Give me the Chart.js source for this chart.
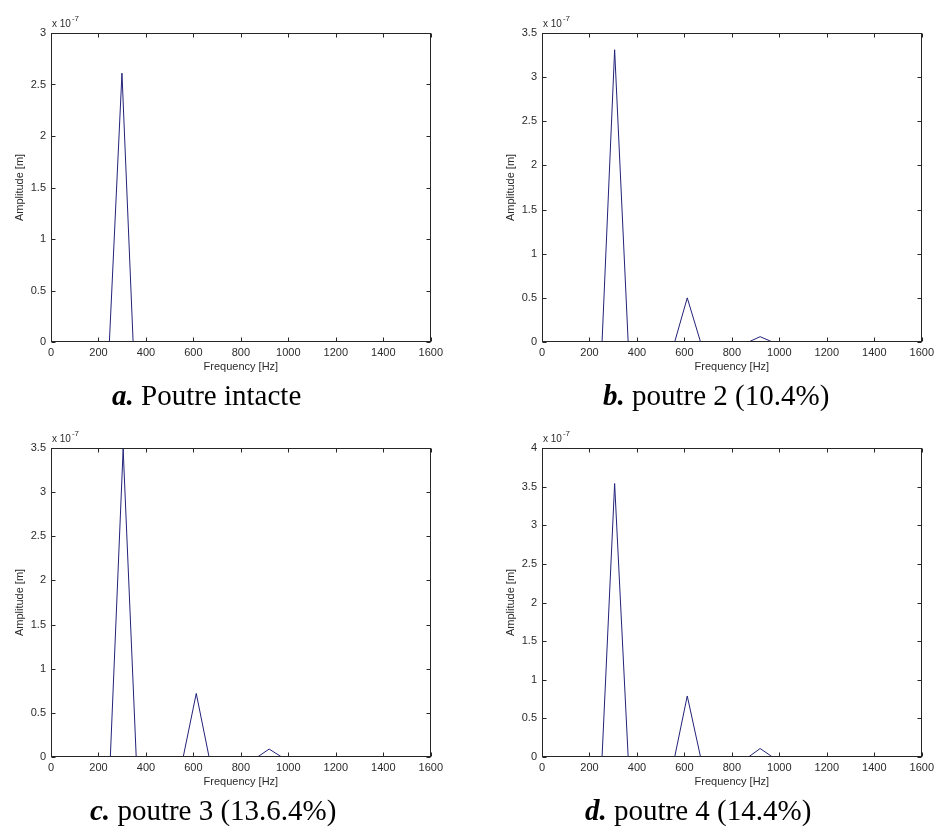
<!DOCTYPE html>
<html>
<head>
<meta charset="utf-8">
<script src="https://cdn.jsdelivr.net/npm/chart.js@4/dist/chart.umd.min.js"></script>
<style>
  html, body { margin: 0; padding: 0; background: #fff; overflow: hidden; }
  body { width: 938px; height: 834px; position: relative; }
  .panel { position: absolute; width: 447px; height: 380px; }
  .cap { position: absolute; font-family: "Liberation Serif", "Times New Roman", serif; font-size: 29px; line-height: 29px; color: #000; white-space: nowrap; }
  .cap b { font-style: italic; }
</style>
</head>
<body>
<div class="panel" style="left:0;top:0"><canvas id="ca"></canvas></div>
<div class="panel" style="left:491px;top:0"><canvas id="cb"></canvas></div>
<div class="panel" style="left:0;top:415px"><canvas id="cc"></canvas></div>
<div class="panel" style="left:491px;top:415px"><canvas id="cd"></canvas></div>
<div class="cap" style="left:112px;top:381px"><b>a.</b> Poutre intacte</div>
<div class="cap" style="left:603px;top:381px"><b>b.</b> poutre 2 (10.4%)</div>
<div class="cap" style="left:90px;top:796px"><b>c.</b> poutre 3 (13.6.4%)</div>
<div class="cap" style="left:585px;top:796px"><b>d.</b> poutre 4 (14.4%)</div>
<script>
// Frequencies in Hz, amplitudes in units of 1e-7 m
const freqA = [246, 299, 346];
const ampA  = [0, 2.61, 0];
const freqB = [57, 253, 306, 363, 559, 612, 668, 870, 919, 971, 1531];
const ampB  = [0, 0, 3.31, 0, 0, 0.50, 0, 0, 0.06, 0, 0];
const freqC = [54, 250, 304, 359, 557, 612, 666, 870, 919, 972, 1529];
const ampC  = [0, 0, 3.49, 0, 0, 0.72, 0, 0, 0.09, 0, 0];
const freqD = [57, 253, 306, 363, 559, 612, 668, 870, 919, 971, 1531];
const ampD  = [0, 0, 3.54, 0, 0, 0.79, 0, 0, 0.11, 0, 0];
const yMaxA = 3, yMaxB = 3.5, yMaxC = 3.5, yMaxD = 4;
const xTickStep = 200, xMin = 0, xMax = 1600;
const yTickStep = 0.5;
const xTitle = 'Frequency [Hz]';
const yTitle = 'Amplitude [m]';
const expBase = 'x 10', expPow = '-7';

const LINE = '#22227a';
const AXIS = '#262626';
const TXT = '#2b2b2b';
const FONT = 'Liberation Sans, Arial, sans-serif';

const boxPlugin = {
  id: 'box',
  afterDraw(chart) {
    const {ctx, chartArea: a, scales} = chart;
    ctx.save();
    ctx.strokeStyle = AXIS;
    ctx.lineWidth = 1;
    const L = Math.round(a.left) + 0.5, R = Math.round(a.right) - 0.5;
    const T = Math.round(a.top) + 0.5, B = Math.round(a.bottom) - 0.5;
    ctx.strokeRect(L, T, R - L, B - T);
    const tl = 4;
    ctx.beginPath();
    scales.x.ticks.forEach(t => {
      const px = Math.round(scales.x.getPixelForValue(t.value)) + 0.5;
      ctx.moveTo(px, B); ctx.lineTo(px, B - tl);
      ctx.moveTo(px, T); ctx.lineTo(px, T + tl);
    });
    scales.y.ticks.forEach(t => {
      const py = Math.round(scales.y.getPixelForValue(t.value)) + 0.5;
      ctx.moveTo(L, py); ctx.lineTo(L + tl, py);
      ctx.moveTo(R, py); ctx.lineTo(R - tl, py);
    });
    ctx.stroke();
    // exponent label
    ctx.fillStyle = TXT;
    ctx.textBaseline = 'alphabetic';
    ctx.textAlign = 'left';
    ctx.font = '10px ' + FONT;
    ctx.fillText(expBase, a.left + 1, a.top - 6);
    const w = ctx.measureText(expBase).width;
    ctx.font = '8px ' + FONT;
    ctx.fillText(expPow, a.left + 1 + w + 1, a.top - 12);
    ctx.restore();
  }
};

function makeChart(id, fx, fy, yMax) {
  const pts = fx.map((x, i) => ({x: x, y: fy[i]}));
  new Chart(document.getElementById(id), {
    type: 'scatter',
    data: { datasets: [{ data: pts, showLine: true, borderColor: LINE, borderWidth: 1,
      pointRadius: 0, pointHoverRadius: 0, fill: false, tension: 0 }] },
    options: {
      responsive: true, maintainAspectRatio: false, animation: false,
      layout: { padding: { top: 33, right: 14, left: 0, bottom: 0 } },
      plugins: { legend: { display: false }, tooltip: { enabled: false } },
      scales: {
        x: {
          type: 'linear', min: xMin, max: xMax,
          grid: { display: false, drawTicks: false },
          border: { display: false },
          ticks: { stepSize: xTickStep, padding: 4, color: TXT, font: { family: FONT, size: 11 },
            maxRotation: 0, autoSkip: false, callback: v => String(v) },
          title: { display: true, text: xTitle, color: TXT, font: { family: FONT, size: 11 },
            padding: { top: 0, bottom: 6 } },
          afterFit: s => { s.height = 38; }
        },
        y: {
          type: 'linear', min: 0, max: yMax,
          grid: { display: false, drawTicks: false },
          border: { display: false },
          ticks: { stepSize: yTickStep, padding: 5, color: TXT, font: { family: FONT, size: 11 },
            autoSkip: false, callback: v => String(+(+v).toFixed(1)) },
          title: { display: true, text: yTitle, color: TXT, font: { family: FONT, size: 11 },
            padding: { top: 13, bottom: 0 } },
          afterFit: s => { s.width = 51; }
        }
      }
    },
    plugins: [boxPlugin]
  });
}

makeChart('ca', freqA, ampA, yMaxA);
makeChart('cb', freqB, ampB, yMaxB);
makeChart('cc', freqC, ampC, yMaxC);
makeChart('cd', freqD, ampD, yMaxD);
</script>
</body>
</html>
